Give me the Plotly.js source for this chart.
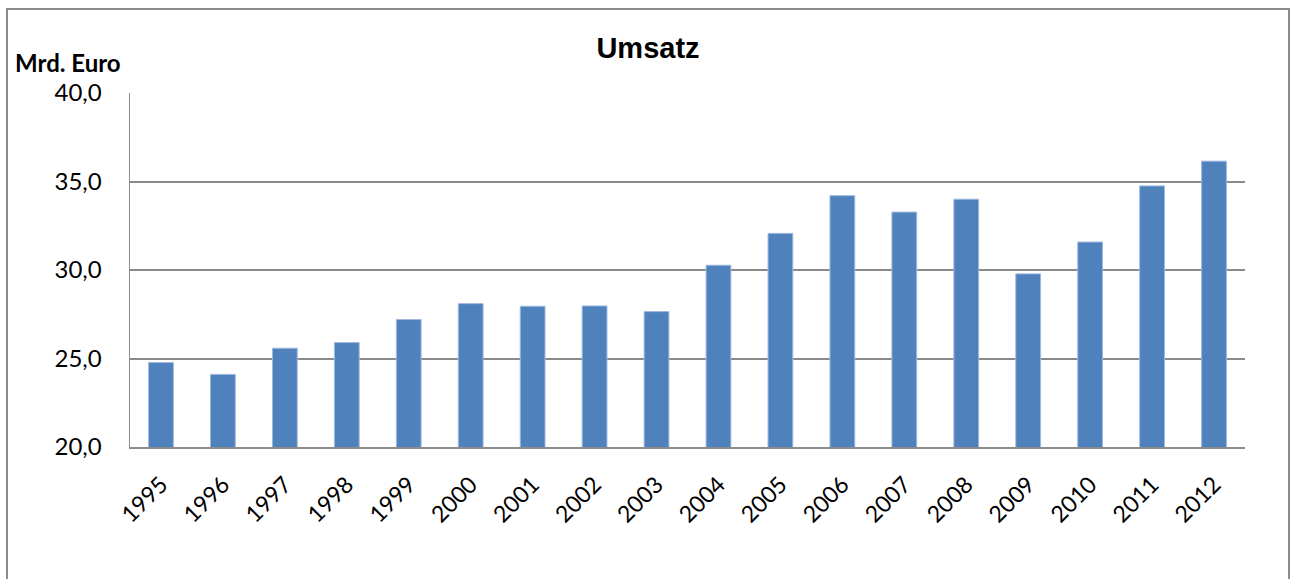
<!DOCTYPE html>
<html>
<head>
<meta charset="utf-8">
<script src="https://cdn.plot.ly/plotly-3.0.1.min.js"></script>
<style>
  html, body { margin: 0; padding: 0; background: #fff; }
  #wrap { position: relative; width: 1290px; height: 579px; overflow: hidden; }
  #chart { position: absolute; left: 0; top: 0; width: 1290px; height: 579px; }
  #frame { position: absolute; left: 6px; top: 8px; width: 1284px; height: 600px;
           border: 2px solid #8c8c8c; pointer-events: none; box-sizing: border-box; }
</style>
</head>
<body>
<div id="wrap">
  <div id="chart"></div>
  <div id="frame"></div>
</div>
<script>
const years = ["1995","1996","1997","1998","1999","2000","2001","2002","2003",
               "2004","2005","2006","2007","2008","2009","2010","2011","2012"];
const umsatz = [24.77, 24.1, 25.58, 25.9, 27.2, 28.1, 27.95, 27.97, 27.65,
                30.27, 32.07, 34.2, 33.27, 34.0, 29.78, 31.58, 34.75, 36.15];
const yTicks = [20, 25, 30, 35, 40];

const trace = {
  type: 'bar',
  x: years,
  y: umsatz,
  marker: { color: '#4F81BD', line: { color: '#9DB9DE', width: 1 } },
  hoverinfo: 'x+y'
};

const layout = {
  width: 1290, height: 579,
  margin: { l: 130, r: 45, t: 93, b: 132 },
  paper_bgcolor: '#ffffff',
  plot_bgcolor: '#ffffff',
  separators: ', ',
  bargap: 0.6,
  showlegend: false,
  title: {
    text: '<b>Umsatz</b>',
    font: { family: 'Liberation Sans, Arial, sans-serif', size: 29, color: '#000' },
    x: 648/1290, xref: 'container', xanchor: 'center',
    y: 1 - 48/579, yref: 'container', yanchor: 'middle'
  },
  xaxis: {
    type: 'category',
    tickangle: -45,
    tickfont: { family: 'Lato, Carlito, sans-serif', size: 23, color: '#000' },
    showgrid: false,
    showline: true, linecolor: '#8c8c8c', linewidth: 2,
    ticks: '',
    ticklabelstandoff: 13,
    fixedrange: true
  },
  yaxis: {
    range: [20, 40],
    tickvals: yTicks,
    tickformat: '.1f',
    tickfont: { family: 'Lato, Carlito, sans-serif', size: 24, color: '#000' },
    showgrid: true, gridcolor: '#8a8a8a', gridwidth: 2,
    showline: true, linecolor: '#8c8c8c', linewidth: 1.5,
    zeroline: false,
    ticks: '',
    ticklabelstandoff: 22,
    fixedrange: true
  },
  annotations: [{
    text: '<b>Mrd. Euro</b>',
    xref: 'paper', yref: 'paper',
    x: -117/1115, y: 1 + 31/354,
    xanchor: 'left', yanchor: 'middle',
    showarrow: false,
    font: { family: 'Lato, Carlito, sans-serif', size: 24, color: '#000' }
  }]
};

Plotly.newPlot('chart', [trace], layout, { displayModeBar: false, staticPlot: true });
</script>
</body>
</html>
